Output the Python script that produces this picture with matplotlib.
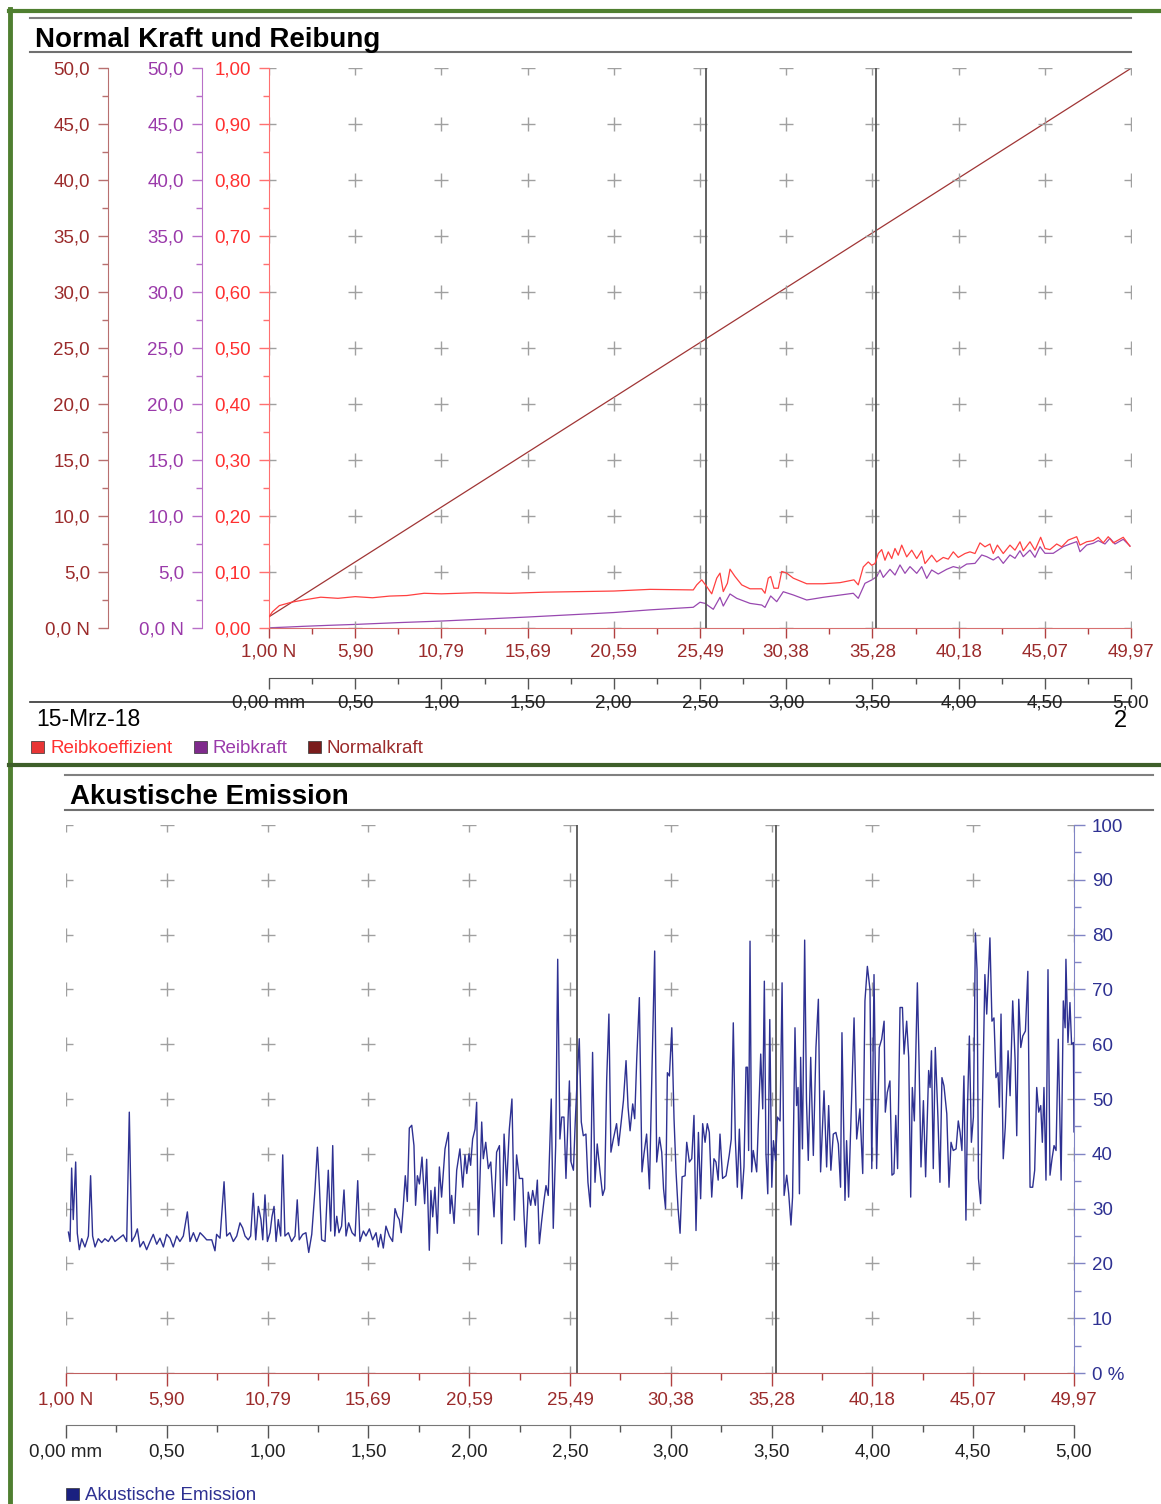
import matplotlib
matplotlib.use("Agg")
import matplotlib.pyplot as plt
from matplotlib.ticker import MultipleLocator
from matplotlib.lines import Line2D
from matplotlib.patches import Rectangle
import numpy as np

plt.rcParams["font.family"] = ["Liberation Sans", "DejaVu Sans"]

# ---------------- data ----------------
dist_ticks = [0.0, 0.5, 1.0, 1.5, 2.0, 2.5, 3.0, 3.5, 4.0, 4.5, 5.0]
dist_labels = ["0,00 mm", "0,50", "1,00", "1,50", "2,00", "2,50", "3,00", "3,50", "4,00", "4,50", "5,00"]
force_labels = ["1,00 N", "5,90", "10,79", "15,69", "20,59", "25,49", "30,38", "35,28", "40,18", "45,07", "49,97"]

newton_ticks = [0, 5, 10, 15, 20, 25, 30, 35, 40, 45, 50]
newton_labels = ["0,0 N", "5,0", "10,0", "15,0", "20,0", "25,0", "30,0", "35,0", "40,0", "45,0", "50,0"]
coef_ticks = [0.0, 0.1, 0.2, 0.3, 0.4, 0.5, 0.6, 0.7, 0.8, 0.9, 1.0]
coef_labels = ["0,00", "0,10", "0,20", "0,30", "0,40", "0,50", "0,60", "0,70", "0,80", "0,90", "1,00"]
ae_ticks = [0, 10, 20, 30, 40, 50, 60, 70, 80, 90, 100]
ae_labels = ["0 %", "10", "20", "30", "40", "50", "60", "70", "80", "90", "100"]

markers_mm = [2.535, 3.52]

# Normalkraft (N) over distance
normal_dist = [0.0, 5.0]
normal_force = [1.00, 49.97]

# Reibkoeffizient
mu_dist = [0.000, 0.020, 0.060, 0.130, 0.200, 0.300, 0.400, 0.500, 0.600, 0.700,
           0.800, 0.900, 1.000, 1.200, 1.400, 1.600, 1.800, 2.000, 2.210, 2.461,
           2.481, 2.510, 2.539, 2.568, 2.597, 2.616, 2.635, 2.659, 2.674, 2.703,
           2.742, 2.790, 2.858, 2.877, 2.896, 2.910, 2.929, 2.954, 2.974, 3.003,
           3.041, 3.119, 3.215, 3.312, 3.393, 3.418, 3.447, 3.476, 3.496, 3.515,
           3.534, 3.554, 3.573, 3.592, 3.612, 3.631, 3.650, 3.670, 3.699, 3.728,
           3.757, 3.786, 3.805, 3.844, 3.873, 3.911, 3.940, 3.969, 3.998, 4.037,
           4.066, 4.095, 4.124, 4.153, 4.182, 4.201, 4.225, 4.259, 4.298, 4.327,
           4.356, 4.375, 4.414, 4.443, 4.476, 4.501, 4.530, 4.569, 4.598, 4.636,
           4.685, 4.704, 4.743, 4.781, 4.810, 4.839, 4.868, 4.897, 4.955, 4.994]
mu = [0.020, 0.029, 0.040, 0.046, 0.050, 0.055, 0.053, 0.056, 0.054, 0.057,
      0.058, 0.062, 0.061, 0.063, 0.062, 0.064, 0.065, 0.066, 0.069, 0.068,
      0.077, 0.086, 0.074, 0.061, 0.089, 0.098, 0.065, 0.080, 0.105, 0.092,
      0.077, 0.070, 0.070, 0.062, 0.089, 0.092, 0.071, 0.071, 0.101, 0.098,
      0.089, 0.079, 0.079, 0.081, 0.086, 0.077, 0.109, 0.118, 0.112, 0.115,
      0.133, 0.140, 0.121, 0.136, 0.124, 0.142, 0.130, 0.148, 0.127, 0.139,
      0.124, 0.138, 0.115, 0.130, 0.118, 0.126, 0.123, 0.136, 0.126, 0.133,
      0.136, 0.133, 0.152, 0.145, 0.150, 0.133, 0.148, 0.133, 0.148, 0.139,
      0.154, 0.138, 0.154, 0.139, 0.162, 0.142, 0.140, 0.150, 0.145, 0.157,
      0.163, 0.148, 0.154, 0.156, 0.162, 0.152, 0.163, 0.152, 0.162, 0.146]

# Reibkraft (N)
fr_dist = [0.000, 0.100, 0.200, 0.350, 0.500, 0.750, 1.000, 1.250, 1.500, 1.750,
           2.000, 2.210, 2.461, 2.500, 2.529, 2.577, 2.616, 2.635, 2.674, 2.713,
           2.790, 2.858, 2.877, 2.910, 2.945, 2.983, 3.041, 3.119, 3.215, 3.389,
           3.418, 3.457, 3.496, 3.525, 3.544, 3.563, 3.602, 3.631, 3.660, 3.689,
           3.718, 3.757, 3.786, 3.815, 3.844, 3.882, 3.931, 3.969, 4.008, 4.047,
           4.095, 4.134, 4.163, 4.201, 4.230, 4.259, 4.298, 4.327, 4.356, 4.375,
           4.414, 4.443, 4.472, 4.501, 4.549, 4.607, 4.646, 4.685, 4.704, 4.743,
           4.781, 4.810, 4.849, 4.878, 4.907, 4.955, 4.994]
fr = [0.02, 0.08, 0.15, 0.24, 0.32, 0.48, 0.62, 0.80, 0.98, 1.18,
      1.38, 1.62, 1.85, 2.30, 2.20, 1.67, 2.74, 1.96, 3.04, 2.65,
      2.20, 2.05, 1.84, 2.86, 2.35, 3.24, 2.95, 2.50, 2.74, 3.10,
      2.65, 3.99, 4.29, 4.58, 5.18, 4.52, 5.24, 4.73, 5.63, 4.88,
      5.48, 4.88, 5.48, 4.43, 5.18, 4.82, 5.24, 5.48, 5.33, 5.71,
      5.77, 6.52, 6.37, 6.07, 6.37, 5.77, 6.52, 6.22, 6.90, 6.37,
      6.96, 6.31, 7.26, 6.67, 6.67, 7.26, 7.50, 7.71, 6.81, 7.41,
      7.56, 7.80, 7.50, 8.01, 7.50, 7.92, 7.32]

# Akustische Emission (%)
ae_dist = [0.012, 0.020, 0.028, 0.036, 0.048, 0.056, 0.066, 0.078, 0.094, 0.111,
           0.122, 0.132, 0.144, 0.160, 0.177, 0.193, 0.210, 0.227, 0.243, 0.260,
           0.284, 0.301, 0.314, 0.326, 0.342, 0.354, 0.367, 0.384, 0.400, 0.417,
           0.433, 0.450, 0.466, 0.483, 0.499, 0.516, 0.532, 0.549, 0.565, 0.582,
           0.602, 0.615, 0.632, 0.648, 0.665, 0.681, 0.698, 0.723, 0.739, 0.747,
           0.764, 0.784, 0.797, 0.813, 0.830, 0.847, 0.863, 0.876, 0.888, 0.904,
           0.916, 0.929, 0.941, 0.954, 0.967, 0.976, 0.987, 0.999, 1.012, 1.022,
           1.032, 1.042, 1.053, 1.065, 1.075, 1.086, 1.103, 1.119, 1.136, 1.147,
           1.157, 1.174, 1.190, 1.204, 1.219, 1.235, 1.247, 1.257, 1.268, 1.285,
           1.301, 1.313, 1.323, 1.333, 1.343, 1.354, 1.367, 1.379, 1.389, 1.402,
           1.419, 1.434, 1.447, 1.458, 1.475, 1.488, 1.505, 1.521, 1.538, 1.549,
           1.561, 1.574, 1.587, 1.604, 1.620, 1.632, 1.644, 1.653, 1.663, 1.673,
           1.683, 1.693, 1.703, 1.715, 1.726, 1.734, 1.743, 1.753, 1.766, 1.779,
           1.789, 1.802, 1.810, 1.819, 1.830, 1.842, 1.852, 1.863, 1.880, 1.897,
           1.905, 1.913, 1.925, 1.938, 1.954, 1.968, 1.979, 1.988, 1.999, 2.007,
           2.017, 2.029, 2.037, 2.045, 2.062, 2.070, 2.082, 2.095, 2.107, 2.123,
           2.136, 2.150, 2.161, 2.173, 2.186, 2.199, 2.212, 2.224, 2.235, 2.249,
           2.265, 2.272, 2.280, 2.293, 2.305, 2.315, 2.328, 2.338, 2.348, 2.359,
           2.371, 2.381, 2.392, 2.407, 2.417, 2.429, 2.439, 2.450, 2.459, 2.470,
           2.480, 2.488, 2.497, 2.505, 2.517, 2.526, 2.536, 2.546, 2.556, 2.566,
           2.579, 2.589, 2.601, 2.612, 2.624, 2.635, 2.649, 2.662, 2.672, 2.682,
           2.693, 2.703, 2.715, 2.731, 2.741, 2.753, 2.765, 2.778, 2.788, 2.798,
           2.811, 2.821, 2.831, 2.844, 2.857, 2.867, 2.880, 2.894, 2.907, 2.920,
           2.930, 2.944, 2.955, 2.964, 2.974, 2.983, 2.993, 3.005, 3.016, 3.026,
           3.036, 3.046, 3.056, 3.071, 3.079, 3.092, 3.104, 3.115, 3.125, 3.137,
           3.148, 3.158, 3.170, 3.181, 3.191, 3.203, 3.214, 3.224, 3.235, 3.244,
           3.257, 3.274, 3.290, 3.300, 3.310, 3.320, 3.330, 3.340, 3.352, 3.363,
           3.373, 3.380, 3.386, 3.393, 3.401, 3.409, 3.426, 3.446, 3.456, 3.464,
           3.472, 3.481, 3.491, 3.501, 3.509, 3.520, 3.529, 3.542, 3.552, 3.562,
           3.575, 3.585, 3.596, 3.604, 3.616, 3.624, 3.631, 3.638, 3.644, 3.653,
           3.664, 3.673, 3.682, 3.694, 3.707, 3.720, 3.732, 3.743, 3.760, 3.773,
           3.783, 3.794, 3.806, 3.819, 3.831, 3.842, 3.849, 3.864, 3.872, 3.882,
           3.897, 3.909, 3.922, 3.938, 3.952, 3.963, 3.975, 3.988, 3.997, 4.008,
           4.021, 4.034, 4.046, 4.058, 4.064, 4.074, 4.087, 4.097, 4.107, 4.116,
           4.125, 4.137, 4.149, 4.157, 4.170, 4.180, 4.190, 4.198, 4.208, 4.223,
           4.231, 4.241, 4.253, 4.264, 4.279, 4.286, 4.293, 4.302, 4.312, 4.325,
           4.335, 4.345, 4.355, 4.369, 4.380, 4.390, 4.401, 4.415, 4.426, 4.435,
           4.444, 4.454, 4.464, 4.472, 4.481, 4.491, 4.501, 4.511, 4.519, 4.526,
           4.537, 4.547, 4.558, 4.567, 4.583, 4.593, 4.603, 4.613, 4.623, 4.630,
           4.638, 4.649, 4.659, 4.673, 4.683, 4.696, 4.708, 4.716, 4.726, 4.736,
           4.746, 4.759, 4.771, 4.782, 4.795, 4.805, 4.815, 4.825, 4.835, 4.843,
           4.851, 4.861, 4.871, 4.881, 4.891, 4.901, 4.911, 4.922, 4.936, 4.947,
           4.956, 4.960, 4.970, 4.980, 4.988, 4.997, 5.000]
ae = [25.7, 24.0, 37.4, 28.0, 38.5, 25.5, 22.5, 24.5, 23.0, 25.0,
      36.0, 25.0, 23.0, 24.5, 23.8, 24.5, 24.0, 25.0, 24.0, 24.5,
      25.2, 24.0, 47.6, 24.0, 25.0, 26.3, 23.0, 24.0, 22.5, 24.0,
      25.3, 23.5, 24.6, 23.0, 25.3, 24.6, 23.0, 25.0, 24.0, 25.0,
      29.4, 24.0, 25.6, 24.0, 25.6, 25.0, 24.3, 24.3, 22.3, 25.3,
      24.6, 34.9, 25.0, 25.6, 24.0, 25.0, 27.4, 26.5, 25.0, 24.3,
      25.0, 32.8, 24.3, 30.4, 28.0, 24.3, 32.5, 24.0, 25.6, 28.6,
      30.4, 24.0, 28.0, 25.0, 39.8, 25.0, 25.6, 24.0, 25.0, 31.6,
      24.3, 25.3, 25.6, 22.0, 25.3, 33.4, 41.2, 34.0, 24.3, 24.0,
      37.0, 25.9, 41.5, 25.0, 28.6, 25.6, 26.8, 33.4, 25.0, 27.4,
      25.6, 25.0, 35.1, 24.0, 25.9, 25.0, 26.3, 24.3, 25.6, 23.0,
      25.3, 22.8, 26.8, 25.0, 24.0, 30.0, 28.6, 28.0, 25.6, 30.4,
      36.0, 31.3, 44.7, 45.2, 41.5, 30.6, 36.0, 34.5, 39.4, 30.9,
      39.0, 22.4, 33.3, 28.5, 33.9, 25.5, 37.6, 32.1, 40.9, 43.9,
      29.1, 32.4, 27.3, 37.0, 40.9, 33.9, 39.8, 36.4, 40.0, 37.9,
      42.7, 44.5, 49.4, 25.2, 45.8, 39.1, 42.1, 37.3, 38.5, 28.5,
      40.3, 41.5, 23.6, 43.6, 34.2, 44.5, 50.0, 27.9, 39.8, 35.5,
      35.5, 28.8, 23.0, 33.0, 30.6, 33.3, 30.6, 35.2, 23.6, 27.6,
      31.5, 34.2, 32.4, 50.0, 26.4, 41.5, 75.5, 42.7, 46.7, 46.7,
      35.5, 43.9, 53.3, 38.5, 37.0, 45.8, 54.0, 61.0, 45.8, 43.3,
      43.6, 34.8, 30.3, 58.5, 34.8, 41.8, 36.7, 32.4, 33.6, 53.6,
      65.5, 40.3, 42.7, 45.5, 41.5, 45.5, 49.7, 57.0, 48.5, 44.2,
      49.1, 46.4, 57.3, 68.5, 36.7, 40.0, 43.6, 33.6, 55.8, 77.0,
      38.5, 43.0, 40.3, 33.6, 30.0, 54.8, 54.2, 63.0, 46.4, 36.7,
      30.0, 25.5, 35.8, 36.0, 42.1, 38.5, 39.1, 47.0, 26.0, 43.9,
      31.8, 45.5, 42.1, 45.5, 43.9, 32.1, 39.1, 38.5, 35.2, 43.6,
      35.5, 36.0, 39.8, 42.7, 63.9, 42.7, 33.9, 44.5, 31.8, 37.6,
      55.8, 55.8, 40.6, 78.8, 36.7, 40.6, 36.7, 58.2, 48.2, 71.5,
      40.0, 32.7, 64.5, 33.9, 42.4, 38.8, 46.7, 46.0, 71.2, 32.4,
      36.1, 32.7, 27.0, 32.1, 63.0, 48.8, 52.1, 32.7, 57.6, 40.9,
      79.0, 49.7, 38.8, 57.6, 39.7, 59.4, 68.2, 36.7, 51.5, 37.6,
      48.8, 37.0, 43.6, 43.9, 41.8, 33.9, 62.1, 31.5, 42.4, 32.1,
      50.6, 64.8, 42.7, 48.2, 36.4, 67.9, 74.2, 70.0, 37.3, 72.7,
      37.3, 59.4, 60.9, 64.2, 47.6, 51.2, 53.3, 36.1, 36.4, 47.0,
      37.3, 66.7, 66.7, 58.2, 64.2, 57.6, 32.1, 52.1, 46.0, 71.2,
      57.6, 37.6, 49.7, 35.8, 55.2, 52.1, 58.8, 37.3, 59.4, 46.7,
      34.8, 53.9, 52.4, 47.3, 33.9, 42.1, 40.6, 40.9, 46.0, 43.9,
      40.6, 54.2, 27.9, 48.8, 61.5, 42.1, 46.7, 80.3, 73.6, 35.5,
      30.9, 50.9, 72.7, 65.5, 79.4, 64.2, 64.8, 53.9, 54.8, 48.5,
      65.5, 39.1, 44.8, 58.8, 50.6, 67.9, 57.0, 43.3, 68.2, 59.4,
      61.5, 62.4, 73.3, 33.9, 33.9, 37.0, 52.1, 47.6, 48.8, 42.1,
      52.1, 35.2, 73.6, 36.1, 39.1, 41.5, 40.6, 60.9, 35.2, 67.9,
      63.0, 75.5, 60.3, 67.6, 60.0, 60.3, 44.0]

# ---------------- figure ----------------
W, H = 1161, 1504
fig = plt.figure(figsize=(W / 100, H / 100), dpi=100)
TICK_FS = 13.5


def box(l, t, r, b):
    return [l / W, 1 - b / H, (r - l) / W, (b - t) / H]


def hline(y, x0, x1, color, lw):
    fig.add_artist(Line2D([x0 / W, x1 / W], [1 - y / H, 1 - y / H],
                          transform=fig.transFigure, color=color, lw=lw))


def vline(x, y0, y1, color, lw):
    fig.add_artist(Line2D([x / W, x / W], [1 - y0 / H, 1 - y1 / H],
                          transform=fig.transFigure, color=color, lw=lw))


def square(x, y, color):
    fig.add_artist(Rectangle((x / W, 1 - (y + 12) / H), 13 / W, 12 / H,
                             transform=fig.transFigure, facecolor=color,
                             edgecolor="#333333", lw=0.5))


C_NORMAL = "#9b2b2b"
C_FRIC = "#9a3aaa"
C_COEF = "#ff3030"
C_AE = "#2e3192"
CROSS = "#a0a0a0"

# ---- top panel: Normal Kraft und Reibung ----
ax = fig.add_axes(box(269, 68, 1131, 628))
ax.set_xlim(0, 5)
ax.set_ylim(0, 1)
ax.patch.set_visible(False)
ax.set_zorder(3)
ax.spines["top"].set_visible(False)
ax.spines["right"].set_visible(False)
ax.spines["left"].set_color("#ff7070")
ax.spines["bottom"].set_color("#d87070")

gx, gy = np.meshgrid(dist_ticks, coef_ticks)
ax.plot(gx.ravel(), gy.ravel(), "+", ms=10, mew=1.0, color=CROSS, zorder=1)
for m in markers_mm:
    ax.axvline(m, color="#555555", lw=1.3, zorder=2)
ax.plot(mu_dist, mu, color="#ff4040", lw=0.9, zorder=4)

ax.set_xticks(dist_ticks, force_labels)
ax.xaxis.set_minor_locator(MultipleLocator(0.25))
ax.set_yticks(coef_ticks, coef_labels)
ax.yaxis.set_minor_locator(MultipleLocator(0.05))
ax.tick_params(axis="x", which="both", color="#b04040", labelcolor=C_NORMAL,
               labelsize=TICK_FS, pad=4, width=1)
ax.tick_params(axis="x", which="major", length=7)
ax.tick_params(axis="x", which="minor", length=4)
ax.tick_params(axis="y", which="both", color="#ff7070", labelcolor=C_COEF,
               labelsize=TICK_FS, pad=6, width=1)
ax.tick_params(axis="y", which="major", length=7)
ax.tick_params(axis="y", which="minor", length=4)

dist_ax = ax.secondary_xaxis(-50 / 560)
dist_ax.set_xticks(dist_ticks, dist_labels)
dist_ax.xaxis.set_minor_locator(MultipleLocator(0.25))
dist_ax.spines["bottom"].set_color("#555555")
dist_ax.tick_params(axis="x", which="both", color="#555555", labelcolor="#222222",
                    labelsize=TICK_FS, pad=4, width=1)
dist_ax.tick_params(axis="x", which="major", length=8)
dist_ax.tick_params(axis="x", which="minor", length=4)


def side_axis(offset, label_color, spine_color):
    a = ax.twinx()
    a.set_zorder(1)
    a.set_ylim(0, 50)
    a.yaxis.tick_left()
    for s in ["top", "right", "bottom"]:
        a.spines[s].set_visible(False)
    a.spines["left"].set_visible(True)
    a.spines["left"].set_position(("axes", offset))
    a.spines["left"].set_color(spine_color)
    a.set_yticks(newton_ticks, newton_labels)
    a.yaxis.set_minor_locator(MultipleLocator(2.5))
    a.tick_params(axis="y", which="both", color=spine_color, labelcolor=label_color,
                  labelsize=TICK_FS, pad=6, width=1)
    a.tick_params(axis="y", which="major", length=7)
    a.tick_params(axis="y", which="minor", length=4)
    return a


ax_fric = side_axis(-67 / 862, C_FRIC, "#b870c8")
ax_norm = side_axis(-161 / 862, C_NORMAL, "#b87070")
ax_fric.plot(fr_dist, fr, color="#9848b0", lw=0.9)
ax_norm.plot(normal_dist, normal_force, color="#a03535", lw=0.9)

# ---- bottom panel: Akustische Emission ----
bx = fig.add_axes(box(66, 825, 1074, 1373))
bx.set_xlim(0, 5)
bx.set_ylim(0, 100)
bx.spines["top"].set_visible(False)
bx.spines["left"].set_visible(False)
bx.spines["right"].set_color("#8084c4")
bx.spines["bottom"].set_color("#c06060")

gx, gy = np.meshgrid(dist_ticks, ae_ticks)
bx.plot(gx.ravel(), gy.ravel(), "+", ms=10, mew=1.0, color=CROSS, zorder=1)
for m in markers_mm:
    bx.axvline(m, color="#555555", lw=1.3, zorder=2)
bx.plot(ae_dist, ae, color=C_AE, lw=1.0, zorder=3)

bx.yaxis.tick_right()
bx.set_yticks(ae_ticks, ae_labels)
bx.yaxis.set_minor_locator(MultipleLocator(5))
bx.tick_params(axis="y", which="both", color="#8084c4", labelcolor=C_AE,
               labelsize=TICK_FS, pad=5, width=1)
bx.tick_params(axis="y", which="major", length=8)
bx.tick_params(axis="y", which="minor", length=5)
bx.set_xticks(dist_ticks, force_labels)
bx.xaxis.set_minor_locator(MultipleLocator(0.25))
bx.tick_params(axis="x", which="both", color="#b04040", labelcolor=C_NORMAL,
               labelsize=TICK_FS, pad=4, width=1)
bx.tick_params(axis="x", which="major", length=9)
bx.tick_params(axis="x", which="minor", length=5)

dist_bx = bx.secondary_xaxis(-52 / 548)
dist_bx.set_xticks(dist_ticks, dist_labels)
dist_bx.xaxis.set_minor_locator(MultipleLocator(0.25))
dist_bx.spines["bottom"].set_color("#777777")
dist_bx.tick_params(axis="x", which="both", color="#555555", labelcolor="#222222",
                    labelsize=TICK_FS, pad=4, width=1)
dist_bx.tick_params(axis="x", which="major", length=9)
dist_bx.tick_params(axis="x", which="minor", length=5)

# ---- frame, titles, footer ----
vline(10, 9, 1504, "#4f7f30", 3.5)
hline(11, 9, 1161, "#4f7f30", 3.0)
hline(765, 9, 1161, "#3e5f2a", 3.0)

hline(18, 30, 1131, "#808080", 1.5)
hline(52, 30, 1131, "#707070", 1.5)
fig.text(35 / W, 1 - 47 / H, "Normal Kraft und Reibung", fontsize=20,
         fontweight="bold", va="baseline", ha="left")

hline(775, 65, 1153, "#808080", 1.5)
hline(810, 65, 1153, "#707070", 1.5)
fig.text(70 / W, 1 - 804 / H, "Akustische Emission", fontsize=20,
         fontweight="bold", va="baseline", ha="left")

hline(702, 30, 1131, "#333333", 1.2)
fig.text(36 / W, 1 - 726 / H, "15-Mrz-18", fontsize=16.5, va="baseline", ha="left")
fig.text(1120 / W, 1 - 727 / H, "2", fontsize=17, va="baseline", ha="center")

legend_top = [(31, "#e83535", 50, "Reibkoeffizient", C_COEF),
              (194, "#7f2a8c", 213, "Reibkraft", C_FRIC),
              (308, "#7a1c1c", 327, "Normalkraft", C_NORMAL)]
for sx, sc, tx, txt, tc in legend_top:
    square(sx, 741, sc)
    fig.text(tx / W, 1 - 753 / H, txt, fontsize=13.5, color=tc, va="baseline", ha="left")

square(66, 1488, "#1a2080")
fig.text(85 / W, 1 - 1500 / H, "Akustische Emission", fontsize=13.5, color=C_AE,
         va="baseline", ha="left")

fig.savefig("out.png", dpi=100)
